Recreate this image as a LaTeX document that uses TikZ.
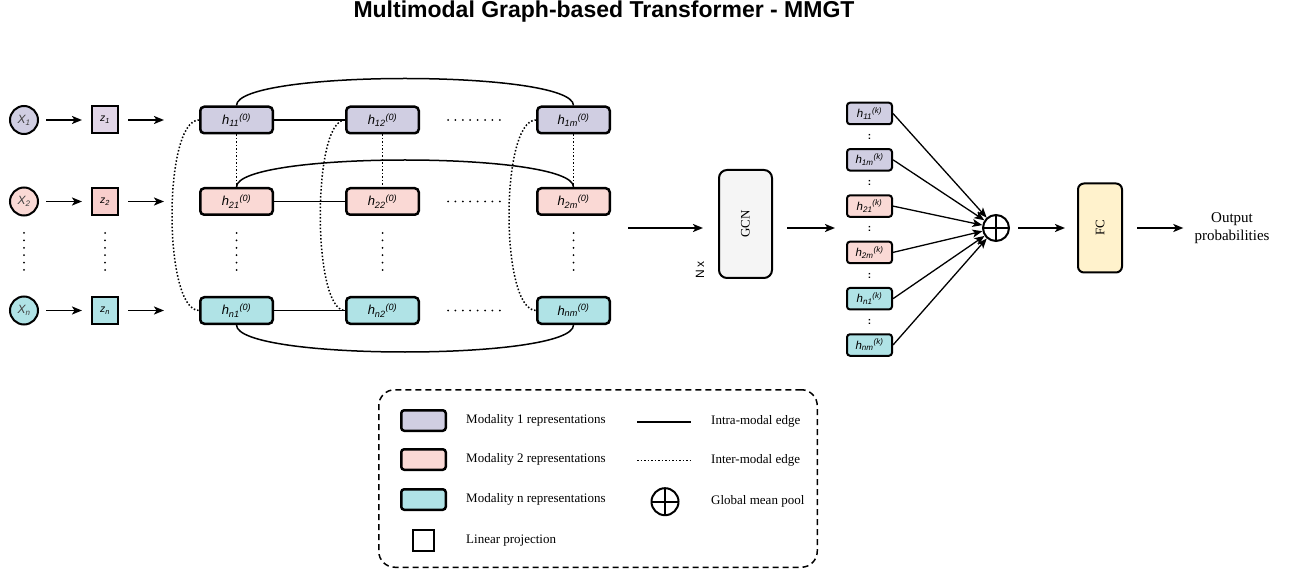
\documentclass[tikz,border=0pt]{standalone}
\usepackage{fontspec}
\setmainfont{Liberation Serif}
\setsansfont{Liberation Sans}
\usepackage{tikz}
\usetikzlibrary{arrows.meta}
\definecolor{purplefill}{HTML}{D0CEE2}
\definecolor{purplelight}{HTML}{E1D5E7}
\definecolor{redfill}{HTML}{FAD9D5}
\definecolor{redlight}{HTML}{F8CECC}
\definecolor{cyanfill}{HTML}{B0E3E6}
\definecolor{gcnfill}{HTML}{F5F5F5}
\definecolor{fcfill}{HTML}{FFF2CC}
\tikzset{
	inputstyle/.style={circle,draw=black,line width=2,minimum size=28,inner sep=0,font=\sffamily\itshape\fontsize{12}{14}\selectfont,text=black!75},
	projstyle/.style={rectangle,draw=black,line width=2,minimum width=26,minimum height=27,inner sep=0,font=\sffamily\itshape\fontsize{10.5}{12}\selectfont},
	hstyle/.style={rectangle,rounded corners=4,draw=black,line width=2.5,minimum width=72.5,minimum height=26.5,inner sep=0,font=\sffamily\itshape\fontsize{13}{15}\selectfont},
	kstyle/.style={rectangle,rounded corners=3,draw=black,line width=2,minimum width=45,minimum height=21.5,inner sep=0,font=\sffamily\itshape\fontsize{11.5}{13}\selectfont},
	blockstyle/.style={rectangle,rounded corners=8,draw=black,line width=2,inner sep=0,font=\fontsize{13}{15}\selectfont},
	poolstyle/.style={circle,draw=black,line width=2,minimum size=26,inner sep=0,path picture={\draw[line width=2] (path picture bounding box.north) -- (path picture bounding box.south) (path picture bounding box.west) -- (path picture bounding box.east);}},
	arrowstyle/.style={-{Stealth[length=10pt,width=8pt,inset=2.5pt]},line width=1.8},
	intrastyle/.style={line width=1.5},
	interstyle/.style={dotted,line width=1.5},
	dotrowstyle/.style={line width=2,line cap=round,dash pattern=on 0pt off 7.4pt},
	legendtext/.style={anchor=west,inner sep=0,font=\fontsize{13}{15}\selectfont}
}

\begin{document}
\begin{tikzpicture}[x=1pt,y=-1pt]
	\useasboundingbox (0,0) rectangle (1290,577);
	\node[font=\sffamily\bfseries\fontsize{23}{27}\selectfont,anchor=base] (title) at (604,18) {Multimodal Graph-based Transformer - MMGT};
	\foreach \r/\y/\c/\zc in {1/120/purplefill/purplelight,2/201.5/redfill/redlight,n/310.5/cyanfill/cyanfill}
	{
		\node[inputstyle,fill=\c] (x\r) at (24,\y) {X\textsubscript{\r}};
		\node[projstyle,fill=\zc] (z\r) at (105,\y) {z\textsubscript{\r}};
		\foreach \k/\x in {1/236.5,2/382.5,m/573.5}
		\node[hstyle,fill=\c] (h\r\k) at (\x,\y) {h\textsubscript{\r\k}\textsuperscript{(0)}};
		\draw[arrowstyle,shorten <=7,shorten >=9] (x\r) -- (z\r);
		\draw[arrowstyle,shorten <=9,shorten >=35] (z\r) -- (h\r1);
		\draw[intrastyle] (h\r1) -- (h\r2);
		\draw[dotrowstyle] (448,\y) -- (502,\y);
	}
	\draw[intrastyle] (h11.north) .. controls +(0,-36) and +(0,-36) .. (h1m.north);
	\draw[intrastyle] (h21.north) .. controls +(0,-36) and +(0,-36) .. (h2m.north);
	\draw[intrastyle] (hn1.south) .. controls +(0,36) and +(0,36) .. (hnm.south);
	\foreach \k/\d in {1/36,2/33,m/36}
	{
		\draw[interstyle] (h1\k.south) -- (h2\k.north);
		\draw[interstyle] (h1\k.west) .. controls +(-\d,0) and +(-\d,0) .. (hn\k.west);
	}
	\foreach \x in {24,105,236.5,382.5,573.5}
	\draw[dotrowstyle] (\x,233) -- (\x,276);

	\node[blockstyle,fill=gcnfill,minimum width=53,minimum height=108] (gcn) at (745.5,224) {\rotatebox{90}{GCN}};
	\node[rotate=90,inner sep=0,font=\sffamily\fontsize{12}{14}\selectfont] (nx) at (700,270) {N x};
	\coordinate (gin) at (628,228);
	\coordinate (gout) at (787,228);
	\coordinate (kin) at (835,228);
	\draw[arrowstyle] (gin) -- (gin -| gcn.west) [shorten >=15];
	\draw[arrowstyle] (gout) -- (kin);

	\node[poolstyle] (pool) at (996,228) {};
	\foreach \i/\c [count=\n from 0] in {11/purplefill,1m/purplefill,21/redfill,2m/redfill,n1/cyanfill,nm/cyanfill}
	{
		\pgfmathsetmacro{\yy}{113.5+46.3*\n}
		\node[kstyle,fill=\c] (k\i) at (869.5,\yy) {h\textsubscript{\i}\textsuperscript{(k)}};
		\draw[arrowstyle,line width=1.3] (k\i.east) -- (pool);
	}
	\foreach \n in {0,...,4}
	{
		\pgfmathsetmacro{\yy}{136.6+46.3*\n}
		\node[inner sep=0,font=\sffamily\bfseries\fontsize{10}{12}\selectfont] (colon\n) at (869.5,\yy) {:};
	}

	\node[blockstyle,rounded corners=6,fill=fcfill,minimum width=44,minimum height=89] (fc) at (1100,228) {\rotatebox{90}{FC}};
	\node[inner sep=0,align=center,font=\fontsize{15}{18}\selectfont] (out) at (1232,228) {Output\\probabilities};
	\draw[arrowstyle,shorten <=8,shorten >=12] (pool) -- (fc);
	\draw[arrowstyle,shorten <=14,shorten >=11] (fc) -- (out);

	\node[rectangle,rounded corners=16,draw=black,line width=1.5,dash pattern=on 6pt off 4pt,minimum width=438.5,minimum height=177.5] (legend) at (598,478.5) {};
	\node[hstyle,rounded corners=3,fill=purplefill,minimum width=44.5,minimum height=20.5] (leg1) at (423.5,420.5) {};
	\node[hstyle,rounded corners=3,fill=redfill,minimum width=44.5,minimum height=20.5] (leg2) at (423.5,459.5) {};
	\node[hstyle,rounded corners=3,fill=cyanfill,minimum width=44.5,minimum height=20.5] (legn) at (423.5,499.5) {};
	\node[projstyle,line width=2.5,fill=white,minimum width=21,minimum height=21] (legproj) at (423.5,540.5) {};
	\node[legendtext] (legtext1) at (466,420.5) {Modality 1 representations};
	\node[legendtext] (legtext2) at (466,459.5) {Modality 2 representations};
	\node[legendtext] (legtextn) at (466,499.5) {Modality n representations};
	\node[legendtext] (legtextproj) at (466,540.5) {Linear projection};
	\draw[intrastyle,line width=2] (637,421.7) -- (691,421.7);
	\draw[interstyle] (637,460.7) -- (691,460.7);
	\node[poolstyle,minimum size=27] (legpool) at (665,501.7) {};
	\node[legendtext] (legintra) at (711,421.7) {Intra-modal edge};
	\node[legendtext] (leginter) at (711,460.7) {Inter-modal edge};
	\node[legendtext] (legmean) at (711,501.7) {Global mean pool};
\end{tikzpicture}
\end{document}
